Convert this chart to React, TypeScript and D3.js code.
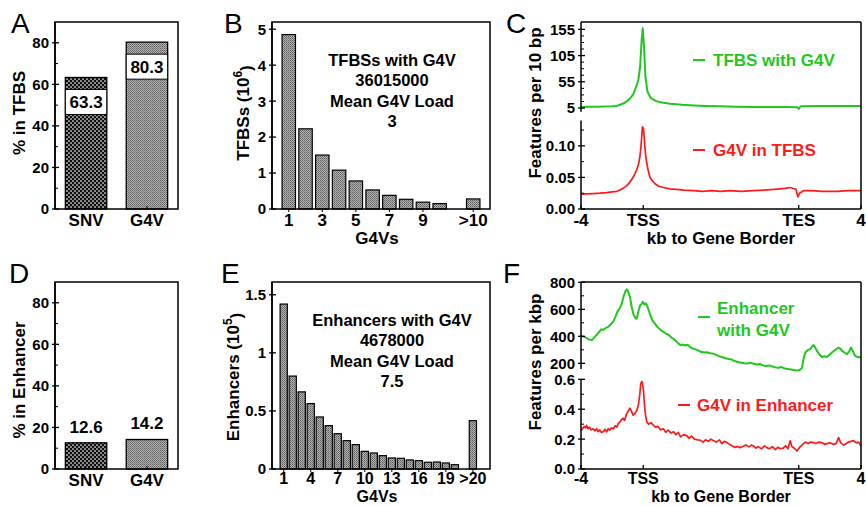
import React from 'react';
import * as d3 from 'd3';

const FONT = "'Liberation Sans', Arial, Helvetica, sans-serif";
const GREEN = '#1fc71f';
const RED = '#ff1a1a';

// Panel A / D
const groups = ['SNV', 'G4V'];
const tfbsPct = [63.3, 80.3];
const enhPct = [12.6, 14.2];
const pctTicks = [0, 20, 40, 60, 80];
const pctMinor = [10, 30, 50, 70];

// Panel B
const bPos = [1, 2, 3, 4, 5, 6, 7, 8, 9, 10, 12];
const bValues = [4.85, 2.23, 1.5, 1.08, 0.78, 0.53, 0.38, 0.27, 0.19, 0.15, 0.28];
const bTickPos = [1, 3, 5, 7, 9, 12];
const bTickLabels = ['1', '3', '5', '7', '9', '>10'];
const bYTicks = [0, 1, 2, 3, 4, 5];
const bNote = ['TFBSs with G4V', '36015000', 'Mean G4V Load', '3'];

// Panel E
const ePos = [1, 2, 3, 4, 5, 6, 7, 8, 9, 10, 11, 12, 13, 14, 15, 16, 17, 18, 19, 20, 22];
const eValues = [1.42, 0.8, 0.664, 0.563, 0.448, 0.373, 0.304, 0.244, 0.21, 0.152, 0.138, 0.115, 0.095, 0.092, 0.078, 0.072, 0.058, 0.06, 0.052, 0.037, 0.416];
const eTickPos = [1, 4, 7, 10, 13, 16, 19, 22];
const eTickLabels = ['1', '4', '7', '10', '13', '16', '19', '>20'];
const eYTicks = [0, 0.5, 1, 1.5];
const eYLabels = ['0', '0.5', '1', '1.5'];
const eNote = ['Enhancers with G4V', '4678000', 'Mean G4V Load', '7.5'];

// Panels C / F: metagene coordinate, -4..0 upstream kb, 0..10 scaled gene body, 10..14 downstream
const geneTickPos = [-4, 0, 10, 14];
const geneTickLabels = ['-4', 'TSS', 'TES', '4'];

const cGreen: [number, number][] = [[-4,7],[-3.5,7.2],[-3,7.4],[-2.5,7.8],[-2,8.3],[-1.7,9],[-1.49,11.3],[-1.25,14],[-1.06,17.7],[-0.9,21.5],[-0.74,27.2],[-0.63,32],[-0.53,39.9],[-0.42,48],[-0.31,58.9],[-0.2,84.2],[-0.1,134.9],[-0.03,157],[0.05,122.2],[0.14,65.1],[0.27,36.6],[0.48,24],[0.87,17.7],[1.3,15],[1.73,13.2],[2.5,11.2],[3.23,10],[4.0,9],[4.95,8.2],[6,7.5],[7.1,7],[8.2,6.9],[9.24,6.8],[9.9,6.5],[10.0,3.5],[10.08,7],[10.16,8.5],[11.4,9],[12.5,9],[14,8.8]];
const cRed: [number, number][] = [[-4,0.0237],[-3.6,0.024],[-3.2,0.0245],[-2.8,0.025],[-2.35,0.026],[-2.0,0.027],[-1.7,0.028],[-1.5,0.03],[-1.28,0.033],[-1.05,0.037],[-0.85,0.043],[-0.68,0.049],[-0.53,0.056],[-0.42,0.062],[-0.31,0.07],[-0.22,0.082],[-0.16,0.095],[-0.1,0.113],[-0.05,0.13],[0.01,0.128],[0.06,0.115],[0.1,0.1],[0.16,0.085],[0.23,0.072],[0.33,0.06],[0.44,0.05],[0.6,0.044],[0.76,0.04],[1.0,0.036],[1.3,0.034],[1.7,0.032],[2.16,0.031],[2.6,0.03],[3.23,0.029],[3.8,0.028],[4.4,0.029],[4.95,0.028],[5.6,0.029],[6.3,0.028],[7.1,0.029],[7.8,0.03],[8.4,0.031],[8.8,0.032],[9.2,0.033],[9.45,0.034],[9.7,0.032],[9.83,0.031],[9.94,0.019],[10.05,0.025],[10.3,0.029],[10.8,0.029],[11.5,0.028],[12.45,0.028],[13.2,0.029],[14,0.029]];

const fGreen: [number, number][] = [[-4.0,405],[-3.85,398],[-3.7,392],[-3.55,380],[-3.4,375],[-3.3,372],[-3.15,390],[-3.0,410],[-2.85,430],[-2.7,452],[-2.55,448],[-2.4,462],[-2.25,470],[-2.1,488],[-1.95,505],[-1.8,540],[-1.65,585],[-1.5,610],[-1.38,642],[-1.25,700],[-1.12,740],[-1.04,748],[-0.95,725],[-0.85,690],[-0.74,617],[-0.62,560],[-0.5,535],[-0.42,530],[-0.32,580],[-0.2,630],[-0.1,640],[-0.02,655],[0.08,635],[0.18,645],[0.3,610],[0.45,560],[0.6,515],[0.75,495],[0.9,470],[1.05,455],[1.2,440],[1.35,430],[1.5,417],[1.65,410],[1.8,392],[1.95,380],[2.1,365],[2.25,348],[2.4,335],[2.55,340],[2.7,332],[2.85,337],[3.0,322],[3.15,312],[3.3,305],[3.5,298],[3.7,285],[3.9,280],[4.1,282],[4.3,275],[4.5,272],[4.7,262],[4.9,250],[5.1,245],[5.3,238],[5.5,232],[5.7,228],[5.9,215],[6.1,210],[6.3,205],[6.5,200],[6.7,198],[6.9,205],[7.1,197],[7.3,192],[7.5,195],[7.7,185],[7.9,180],[8.1,185],[8.3,176],[8.5,170],[8.7,168],[8.9,172],[9.1,162],[9.3,158],[9.5,155],[9.7,150],[9.88,147],[10.05,150],[10.2,165],[10.3,230],[10.42,280],[10.6,300],[10.74,305],[10.85,325],[10.95,335],[11.05,318],[11.17,292],[11.3,270],[11.49,247],[11.65,252],[11.81,247],[11.95,262],[12.13,280],[12.35,300],[12.56,317],[12.7,305],[12.78,292],[12.95,280],[13.1,267],[13.25,290],[13.35,317],[13.5,285],[13.63,255],[13.8,245],[14.0,247]];
const fRed: [number, number][] = [[-4.0,0.257],[-3.9,0.27],[-3.8,0.285],[-3.7,0.275],[-3.64,0.292],[-3.55,0.27],[-3.45,0.28],[-3.35,0.262],[-3.21,0.269],[-3.1,0.255],[-3.0,0.27],[-2.9,0.25],[-2.8,0.262],[-2.7,0.245],[-2.56,0.25],[-2.45,0.265],[-2.35,0.248],[-2.25,0.27],[-2.15,0.26],[-2.05,0.275],[-1.92,0.269],[-1.8,0.29],[-1.7,0.28],[-1.6,0.305],[-1.49,0.315],[-1.4,0.33],[-1.3,0.34],[-1.2,0.325],[-1.1,0.36],[-1.06,0.372],[-0.95,0.39],[-0.85,0.407],[-0.75,0.385],[-0.65,0.36],[-0.53,0.372],[-0.42,0.39],[-0.31,0.43],[-0.22,0.5],[-0.16,0.568],[-0.1,0.585],[-0.05,0.58],[0.02,0.52],[0.08,0.43],[0.15,0.36],[0.23,0.315],[0.35,0.3],[0.5,0.31],[0.66,0.292],[0.8,0.28],[0.95,0.285],[1.1,0.262],[1.3,0.269],[1.45,0.245],[1.6,0.26],[1.8,0.24],[1.94,0.25],[2.1,0.23],[2.25,0.245],[2.4,0.215],[2.6,0.23],[2.8,0.223],[2.95,0.205],[3.1,0.22],[3.3,0.2],[3.5,0.195],[3.66,0.193],[3.85,0.18],[4.0,0.195],[4.2,0.185],[4.35,0.2],[4.52,0.189],[4.7,0.18],[4.9,0.195],[5.05,0.17],[5.2,0.185],[5.38,0.177],[5.55,0.165],[5.7,0.155],[5.9,0.145],[6.05,0.15],[6.23,0.143],[6.4,0.15],[6.6,0.16],[6.8,0.148],[6.95,0.16],[7.09,0.154],[7.25,0.14],[7.4,0.15],[7.6,0.135],[7.8,0.155],[7.95,0.143],[8.1,0.135],[8.3,0.15],[8.5,0.13],[8.65,0.145],[8.81,0.136],[9.0,0.14],[9.15,0.155],[9.3,0.135],[9.45,0.189],[9.55,0.15],[9.7,0.14],[9.8,0.13],[9.88,0.12],[9.95,0.13],[10.1,0.15],[10.25,0.165],[10.42,0.18],[10.6,0.17],[10.75,0.18],[10.95,0.177],[11.1,0.17],[11.3,0.18],[11.5,0.175],[11.65,0.165],[11.81,0.17],[12.0,0.175],[12.2,0.165],[12.4,0.17],[12.56,0.21],[12.7,0.175],[12.88,0.16],[13.05,0.17],[13.2,0.18],[13.35,0.185],[13.52,0.19],[13.7,0.175],[13.85,0.18],[14.0,0.154]];

const cUpperTicks = [5, 55, 105, 155];
const cLowerTicks = [0, 0.05, 0.1];
const fUpperTicks = [200, 400, 600, 800];
const fLowerTicks = [0, 0.2, 0.4, 0.6];

const tickStyle = { fontFamily: FONT, fontWeight: 700, fontSize: 15 } as const;
const titleStyle = { fontFamily: FONT, fontWeight: 700, fontSize: 17 } as const;

function YAxis({ scale, x, ticks, labels, minor = [], y0, y1 }: any) {
  return (
    <g>
      <line x1={x} x2={x} y1={y0} y2={y1} stroke="#000" strokeWidth={1.5} />
      {ticks.map((t: number, i: number) => (
        <g key={'t' + i}>
          <line x1={x - 3} x2={x + 4} y1={scale(t)} y2={scale(t)} stroke="#000" strokeWidth={1.3} />
          <text x={x - 6} y={scale(t)} dy="0.36em" textAnchor="end" style={tickStyle}>{labels ? labels[i] : String(t)}</text>
        </g>
      ))}
      {minor.map((t: number, i: number) => (
        <line key={'m' + i} x1={x} x2={x + 3} y1={scale(t)} y2={scale(t)} stroke="#000" strokeWidth={1} />
      ))}
    </g>
  );
}

function Frame({ x0, x1, y0, y1 }: any) {
  return <rect x={x0} y={y0} width={x1 - x0} height={y1 - y0} fill="none" stroke="#000" strokeWidth={1.5} />;
}

function Letter({ x, y, t }: any) {
  return <text x={x} y={y} style={{ fontFamily: FONT, fontSize: 28 }}>{t}</text>;
}

function YTitle({ x, y, children }: any) {
  return (
    <text transform={`translate(${x},${y}) rotate(-90)`} textAnchor="middle" dy="0.36em" style={titleStyle}>{children}</text>
  );
}

function PctPanel({ top, values, inside }: { top: number; values: number[]; inside: boolean }) {
  const x0 = 55, x1 = 178, y0 = top, y1 = top + 187;
  const y = d3.scaleLinear().domain([0, 90]).range([y1, y0]);
  const x = d3.scaleBand().domain(groups).range([x0, x1]).paddingInner(0.32).paddingOuter(0.17);
  const fills = ['url(#snv)', 'url(#g4v)'];
  return (
    <g>
      {groups.map((g, i) => {
        const bx = x(g) as number;
        const bw = x.bandwidth();
        const yt = y(values[i]);
        return (
          <g key={g}>
            <rect x={bx} y={yt} width={bw} height={y1 - yt} fill={fills[i]} stroke="#000" strokeWidth={1.3} />
            {inside ? (
              <g>
                <rect x={bx} y={yt + 12} width={bw} height={25} fill="#fff" stroke="#000" strokeWidth={1} />
                <text x={bx + bw / 2} y={yt + 24.5} dy="0.36em" textAnchor="middle" style={titleStyle}>{values[i].toFixed(1)}</text>
              </g>
            ) : (
              <text x={bx + bw / 2} y={yt - 10} textAnchor="middle" style={titleStyle}>{values[i].toFixed(1)}</text>
            )}
            <line x1={bx + bw / 2} x2={bx + bw / 2} y1={y1} y2={y1 - 3} stroke="#000" />
            <text x={bx + bw / 2} y={y1 + 17} textAnchor="middle" style={titleStyle}>{g}</text>
          </g>
        );
      })}
      <Frame x0={x0} x1={x1} y0={y0} y1={y1} />
      <YAxis scale={y} x={x0} ticks={pctTicks} minor={pctMinor} y0={y0} y1={y1} />
    </g>
  );
}

function HistPanel({ top, pos, values, domainX, domainY, yTicks, yLabels, xTicks, xLabels, note, labDy, titleDy, fs }: any) {
  const x0 = 272, x1 = 490, y0 = top, y1 = top + 187;
  const x = d3.scaleLinear().domain(domainX).range([x0, x1]);
  const y = d3.scaleLinear().domain(domainY).range([y1, y0]);
  const step = x(1) - x(0);
  const bw = step * 0.8;
  return (
    <g>
      {pos.map((p: number, i: number) => (
        <rect key={i} x={x(p) - bw / 2} y={y(values[i])} width={bw} height={y1 - y(values[i])} fill="url(#g4v)" stroke="#000" strokeWidth={1.2} />
      ))}
      <Frame x0={x0} x1={x1} y0={y0} y1={y1} />
      <YAxis scale={y} x={x0} ticks={yTicks} labels={yLabels} y0={y0} y1={y1} />
      {xTicks.map((p: number, i: number) => (
        <g key={'x' + i}>
          <line x1={x(p)} x2={x(p)} y1={y1} y2={y1 + 3} stroke="#000" />
          <text x={x(p)} y={y1 + labDy} textAnchor="middle" style={{ ...titleStyle, fontSize: fs }}>{xLabels[i]}</text>
        </g>
      ))}
      {note.map((t: string, i: number) => (
        <text key={'n' + i} x={392} y={top + 44 + i * 20.3} textAnchor="middle" style={{ ...titleStyle, fontSize: 16.5 }}>{t}</text>
      ))}
      <text x={377} y={y1 + titleDy} textAnchor="middle" style={{ ...titleStyle, fontSize: fs }}>G4Vs</text>
    </g>
  );
}

function GenePanel({ top, upDomain, upRange, loDomain, loRange, upTicks, upLabels, upMinor, loTicks, loLabels, loMinor, green, red, labDy, titleDy, fs }: any) {
  const x0 = 581, x1 = 861, y0 = top, y1 = top + 187;
  const x = d3.scaleLinear().domain([-4, 14]).range([x0, x1]);
  const yu = d3.scaleLinear().domain(upDomain).range(upRange);
  const yl = d3.scaleLinear().domain(loDomain).range(loRange);
  const lu = d3.line<[number, number]>().x(d => x(d[0])).y(d => yu(d[1]));
  const ll = d3.line<[number, number]>().x(d => x(d[0])).y(d => yl(d[1]));
  return (
    <g>
      <path d={lu(green) as string} fill="none" stroke={GREEN} strokeWidth={2} strokeLinejoin="round" />
      <path d={ll(red) as string} fill="none" stroke={RED} strokeWidth={1.7} strokeLinejoin="round" />
      <line x1={x0} x2={x1} y1={y0} y2={y0} stroke="#000" strokeWidth={1.5} />
      <line x1={x1} x2={x1} y1={y0} y2={y1} stroke="#000" strokeWidth={1.5} />
      <line x1={x0} x2={x1} y1={y1} y2={y1} stroke="#000" strokeWidth={1.5} />
      <YAxis scale={yu} x={x0} ticks={upTicks} labels={upLabels} minor={upMinor} y0={y0} y1={upRange[0]} />
      <YAxis scale={yl} x={x0} ticks={loTicks} labels={loLabels} minor={loMinor} y0={loRange[1]} y1={y1} />
      {geneTickPos.map((p, i) => (
        <g key={'g' + i}>
          <line x1={x(p)} x2={x(p)} y1={y1} y2={y1 - 4} stroke="#000" strokeWidth={1.3} />
          <text x={x(p)} y={y1 + labDy} textAnchor="middle" style={{ ...titleStyle, fontSize: fs }}>{geneTickLabels[i]}</text>
        </g>
      ))}
      <text x={721} y={y1 + titleDy} textAnchor="middle" style={{ ...titleStyle, fontSize: fs }}>kb to Gene Border</text>
    </g>
  );
}

export default function App() {
  return (
    <div style={{ position: 'absolute', left: 0, top: 0 }}>
      <svg width={866} height={506} style={{ display: 'block', background: '#fff' }}>
        <defs>
          <pattern id="snv" width="4" height="4" patternUnits="userSpaceOnUse">
            <rect width="4" height="4" fill="#111" />
            <circle cx="1" cy="1" r="0.85" fill="#fff" />
            <circle cx="3" cy="3" r="0.85" fill="#fff" />
          </pattern>
          <pattern id="g4v" width="2" height="2" patternUnits="userSpaceOnUse">
            <rect width="2" height="2" fill="#b4b4b4" />
            <rect width="1" height="1" fill="#5a5a5a" />
            <rect x="1" y="1" width="1" height="1" fill="#7a7a7a" />
          </pattern>
        </defs>
        <rect width={866} height={506} fill="#fff" />

        <Letter x={11} y={33} t="A" />
        <Letter x={224} y={33} t="B" />
        <Letter x={506} y={33} t="C" />
        <Letter x={9} y={283} t="D" />
        <Letter x={221} y={283} t="E" />
        <Letter x={503} y={283} t="F" />

        <PctPanel top={22} values={tfbsPct} inside={true} />
        <YTitle x={19} y={113}>% in TFBS</YTitle>
        <PctPanel top={282} values={enhPct} inside={false} />
        <YTitle x={19} y={380}>% in Enhancer</YTitle>

        <HistPanel top={22} pos={bPos} values={bValues} domainX={[0, 13]} domainY={[0, 5.2]} yTicks={bYTicks} xTicks={bTickPos} xLabels={bTickLabels} note={bNote} labDy={17} titleDy={35} fs={17} />
        <YTitle x={243} y={113}>TFBSs (10<tspan dy="-0.6em" fontSize={12}>6</tspan><tspan dy="0.6em">)</tspan></YTitle>
        <HistPanel top={282} pos={ePos} values={eValues} domainX={[-0.3, 23.9]} domainY={[0, 1.61]} yTicks={eYTicks} yLabels={eYLabels} xTicks={eTickPos} xLabels={eTickLabels} note={eNote} labDy={14.5} titleDy={33} fs={16} />
        <YTitle x={233} y={377}>Enhancers (10<tspan dy="-0.6em" fontSize={12}>5</tspan><tspan dy="0.6em">)</tspan></YTitle>

        <GenePanel top={22} upDomain={[-2, 169]} upRange={[111.7, 22]} loDomain={[0, 0.14]} loRange={[209, 120.6]}
          upTicks={cUpperTicks} upMinor={[17.5, 30, 42.5, 67.5, 80, 92.5, 117.5, 130, 142.5]}
          loTicks={cLowerTicks} loLabels={['0.00', '0.05', '0.10']} loMinor={[0.025, 0.075, 0.125]}
          green={cGreen} red={cRed} labDy={17} titleDy={35} fs={17} />
        <YTitle x={535} y={103}>Features per 10 bp</YTitle>
        <line x1={693} x2={705} y1={60} y2={60} stroke={GREEN} strokeWidth={2} />
        <text x={713} y={66} style={{ ...titleStyle, fill: GREEN }}>TFBS with G4V</text>
        <line x1={693} x2={705} y1={150} y2={150} stroke={RED} strokeWidth={2} />
        <text x={713} y={156} style={{ ...titleStyle, fill: RED }}>G4V in TFBS</text>

        <GenePanel top={282} upDomain={[158, 800]} upRange={[369, 282.3]} loDomain={[0, 0.6]} loRange={[469, 379.3]}
          upTicks={fUpperTicks} upMinor={[300, 500, 700]}
          loTicks={fLowerTicks} loLabels={['0.0', '0.2', '0.4', '0.6']} loMinor={[0.1, 0.3, 0.5]}
          green={fGreen} red={fRed} labDy={14.5} titleDy={33} fs={16} />
        <YTitle x={535} y={362}>Features per kbp</YTitle>
        <line x1={698} x2={710} y1={317} y2={317} stroke={GREEN} strokeWidth={2} />
        <text x={717} y={314} style={{ ...titleStyle, fill: GREEN }}>Enhancer</text>
        <text x={717} y={336} style={{ ...titleStyle, fill: GREEN }}>with G4V</text>
        <line x1={678} x2={690} y1={405} y2={405} stroke={RED} strokeWidth={2} />
        <text x={697} y={411} style={{ ...titleStyle, fill: RED }}>G4V in Enhancer</text>
      </svg>
    </div>
  );
}
